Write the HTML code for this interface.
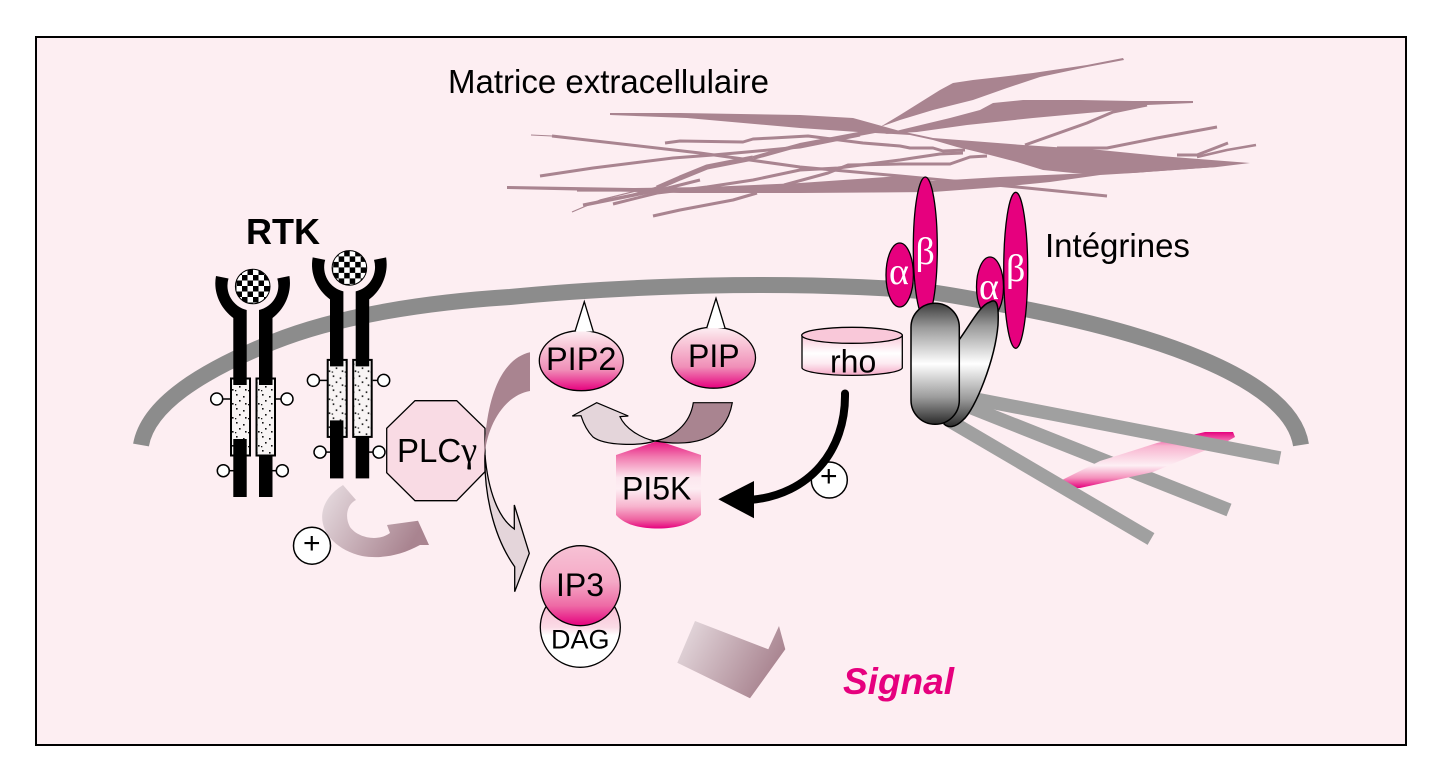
<!DOCTYPE html>
<html><head><meta charset="utf-8"><style>
html,body{margin:0;padding:0;background:#fff;width:1444px;height:763px;overflow:hidden}
svg{display:block}
text{font-family:"Liberation Sans",sans-serif;fill:#000}
.g{font-family:"Liberation Serif",serif;fill:#fff;font-size:38px}
</style></head><body>
<svg width="1444" height="763" viewBox="0 0 1444 763" xmlns="http://www.w3.org/2000/svg">
<defs>
<pattern id="ck" width="11" height="11" patternUnits="userSpaceOnUse"><rect width="11" height="11" fill="#fff"/><rect width="5.5" height="5.5" fill="#000"/><rect x="5.5" y="5.5" width="5.5" height="5.5" fill="#000"/></pattern>
<pattern id="dots" width="13" height="14" patternUnits="userSpaceOnUse"><rect width="13" height="14" fill="#f8f4f4"/><rect x="2" y="2" width="1.6" height="1.6" fill="#111"/><rect x="9" y="4" width="1.6" height="1.6" fill="#111"/><rect x="5" y="8" width="1.6" height="1.6" fill="#111"/><rect x="11" y="11" width="1.6" height="1.6" fill="#111"/><rect x="1" y="12" width="1.3" height="1.3" fill="#111"/></pattern>
<linearGradient id="pk" x1="0" y1="0" x2="0" y2="1"><stop offset="0" stop-color="#fdf0f4"/><stop offset=".2" stop-color="#f9cfdd"/><stop offset=".65" stop-color="#f08fb8"/><stop offset="1" stop-color="#e6007e"/></linearGradient>
<linearGradient id="ip" x1="0" y1="0" x2="0" y2="1"><stop offset="0" stop-color="#f7c2d5"/><stop offset=".45" stop-color="#f5a9c6"/><stop offset=".75" stop-color="#ee6aa5"/><stop offset="1" stop-color="#e6007e"/></linearGradient>
<linearGradient id="dg" x1="0" y1="0" x2="0" y2="1"><stop offset="0" stop-color="#f5a9c6"/><stop offset=".5" stop-color="#fbdbe6"/><stop offset=".6" stop-color="#fff"/><stop offset="1" stop-color="#fff"/></linearGradient>
<linearGradient id="rh" x1="0" y1="0" x2="0" y2="1"><stop offset="0" stop-color="#f9c8d9"/><stop offset=".45" stop-color="#fff"/><stop offset=".7" stop-color="#fdeaf1"/><stop offset="1" stop-color="#f4a9c6"/></linearGradient>
<linearGradient id="pi" x1="0" y1="0" x2="0" y2="1"><stop offset="0" stop-color="#e6107f"/><stop offset=".18" stop-color="#f178ae"/><stop offset=".42" stop-color="#fce6ee"/><stop offset=".55" stop-color="#fdeef3"/><stop offset=".75" stop-color="#f7b3cd"/><stop offset=".9" stop-color="#ee62a0"/><stop offset="1" stop-color="#e6007e"/></linearGradient>
<linearGradient id="gy" x1="0" y1="0" x2="0" y2="1"><stop offset="0" stop-color="#3c3c3c"/><stop offset=".2" stop-color="#9a9a9a"/><stop offset=".5" stop-color="#fff"/><stop offset=".78" stop-color="#9a9a9a"/><stop offset="1" stop-color="#2a2a2a"/></linearGradient>
<linearGradient id="ac" x1="0" y1="0" x2="0" y2="1"><stop offset="0" stop-color="#e6007e"/><stop offset=".25" stop-color="#f8b4cf"/><stop offset=".6" stop-color="#fdeff4"/><stop offset=".82" stop-color="#f490bb"/><stop offset="1" stop-color="#e6007e"/></linearGradient>
<linearGradient id="ar" x1="0" y1="0" x2="1" y2=".4"><stop offset="0" stop-color="#e9dfe3"/><stop offset="1" stop-color="#a98490"/></linearGradient>
</defs>
<rect x="36" y="37" width="1370" height="708" fill="#fdeef2" stroke="#000" stroke-width="2"/>

<!-- extracellular matrix -->
<g fill="#a98490">
<polygon points="1123,58 1087,65 1033,73 1000,77 973,80 953,83 940,90 900,115 880,127 900,120 933,110 973,100 1007,88 1040,77 1087,67 1124,60"/>
<polygon points="1193,101 1133,101 1080,100 1023,100 993,103 980,110 950,118 900,130 885,134 900,133 917,132 967,125 1033,118 1120,110 1147,105 1193,103"/>
<polygon points="610,113 680,113 800,115 853,118 900,131 933,138 1023,145 1100,150 1160,156 1250,163 1217,167 1133,173 1093,174 1073,173 1043,170 1017,162 990,155 957,147 933,140 910,135 858,132 800,128 687,118 610,115"/>
<polygon points="507,186 633,188 707,187 800,183 900,176 933,181 1000,177 1093,173 1180,167 1217,167 1133,173 1100,175 1050,182 1000,187 933,192 800,193 680,193 600,191 507,189"/>
</g>
<g fill="none" stroke="#a98490" stroke-linejoin="round">
<polyline stroke-width="3" points="552,136 700,153 800,167 900,176 1017,187 1107,196"/>
<polyline stroke-width="3" points="540,176 593,168 673,158 713,155 747,152 800,147 860,135"/>
<polyline stroke-width="3" points="583,205 633,195 657,188"/>
<polyline stroke-width="5" points="657,188 680,178 707,167 753,158"/>
<polyline stroke-width="4" points="753,158 800,145 880,130"/>
<polyline stroke-width="3" points="613,204 657,193 707,187 753,180 800,170 838,168 900,160 913,158 940,154 963,153"/>
<polyline stroke-width="3" points="665,143 680,141 743,142 753,139 773,138 808,136 863,143 900,146 910,148 933,148 943,151 965,150"/>
<polyline stroke-width="3" points="653,216 680,210 733,200 757,193"/>
<polyline stroke-width="3" points="784,185 828,173 848,165 900,164 950,164 970,157 987,156"/>
<polyline stroke-width="3" points="1025,145 1087,123 1113,112 1147,105"/>
<polyline stroke-width="3" points="1057,148 1107,148 1157,138 1217,127"/>
<polyline stroke-width="3" points="1177,155 1197,155 1228,143"/>
<polyline stroke-width="2.6" points="1197,157 1227,150 1256,145"/>
<polyline stroke-width="1.2" points="572,212 600,200 640,190"/>
<polyline stroke-width="1.2" points="577,191 700,191"/>
<polyline stroke-width="1" points="531,135 552,136"/>
<polyline stroke-width="3" points="585,205 660,190 700,180"/>
</g>

<!-- membrane -->
<path d="M141,445 C148,405 200,372 273,342 C340,315 430,302 510,297 C600,288 700,285 760,285 C830,285 900,288 937,293 C970,298 1000,304 1030,310 C1140,332 1290,375 1301,445" fill="none" stroke="#8c8c8c" stroke-width="16"/>

<!-- RTK -->
<g id="r">
<rect x="231" y="378.5" width="19" height="77" fill="url(#dots)" stroke="#000" stroke-width="2"/>
<rect x="256.5" y="378.5" width="18.5" height="77" fill="url(#dots)" stroke="#000" stroke-width="2"/>
<path d="M216,276 L228.5,278.5 A25,25 0 0 0 246.7,310 L246.7,385 L233.3,385 L233.3,318 C220,308 213,292 216,276Z"/>
<path d="M289.4,276 L277.3,278.5 A25,25 0 0 1 259,310 L259,385 L272.5,385 L272.5,318 C285.5,308 292,292 289.4,276Z"/>
<rect x="233.3" y="439" width="13.4" height="58"/>
<rect x="259" y="456" width="13.5" height="41"/>
<circle cx="252.7" cy="286.5" r="17.3" fill="url(#ck)" stroke="#000"/>
<g stroke="#000" stroke-width="1.5" fill="#fff">
<line x1="222" y1="399" x2="231" y2="399"/><line x1="276" y1="399" x2="282" y2="399"/>
<line x1="229" y1="470.7" x2="234" y2="470.7"/><line x1="272" y1="470.7" x2="277" y2="470.7"/>
<circle cx="216.7" cy="399" r="6"/><circle cx="287" cy="399" r="6"/>
<circle cx="223.3" cy="470.7" r="6"/><circle cx="282.3" cy="470.7" r="6"/>
</g>
</g>
<use href="#r" transform="translate(96.7,-18.6)"/>
<text x="246" y="244" font-size="36" font-weight="bold">RTK</text>

<!-- feedback arrow -->
<path d="M343,485 L356,500 C346,505 345,518 350,527 C358,538 378,542 390,533 L387,525 L418,520.7 L429,545 L420,545 C400,556 380,559 362,556 C335,550 318,530 323,510 C326,498 335,490 343,485Z" fill="url(#ar)"/>
<circle cx="312" cy="545.7" r="18.5" fill="#fff" stroke="#000" stroke-width="1.5"/>
<text x="303" y="553" font-size="30">+</text>

<!-- PLC -->
<polygon points="415,400.7 456.7,400.7 485,428.3 485,471.7 456.7,500.7 415,500.7 386.7,472.7 386.7,428.3" fill="#f9dbe4" stroke="#000" stroke-width="1.3"/>
<text x="397" y="462" font-size="33">PLC<tspan font-family="Liberation Serif" font-size="36">γ</tspan></text>

<!-- PLC pathway arrow -->
<path d="M485,455 C484,490 492,535 514.7,566.7 L514.7,591.7 L529.3,553.3 L514.3,505 L514.3,529 C498,518 488,490 485,455Z" fill="#e4d5da" stroke="#000" stroke-width="1.3"/>
<path d="M530,352.3 C505,358 485,390 484.2,460 C486,425 505,395 530,391Z" fill="#a98490"/>

<!-- PIP2 / PIP -->
<g stroke="#000" stroke-width="1.3">
<ellipse cx="581.3" cy="360.7" rx="42" ry="30" fill="url(#pk)"/>
<path d="M575,331.5 L584.3,301.7 L593.3,331.5" fill="#fff"/>
<ellipse cx="713.5" cy="357.7" rx="42" ry="30.5" fill="url(#pk)"/>
<path d="M706.7,328 L716,298.3 L725,328" fill="#fff"/>
</g>
<text x="546" y="370" font-size="32.5">PIP2</text>
<text x="688" y="367" font-size="32">PIP</text>

<!-- PI5K -->
<path d="M658.3,440.7 L701,455 L701,515 C690,525 675,528.5 658,528.5 C640,528.5 625,525 616,515 L616,455Z" fill="url(#pi)"/>
<text x="622" y="499.5" font-size="32">PI5K</text>
<path d="M655,441 C640,446 605,446 593,437 C587,431 583,422 581,415.7 L572.3,416 L596.7,402.7 L628.3,416 L620,416.7 C625,428 640,438 655,441Z" fill="#e4d5da" stroke="#000" stroke-width="1.2"/>
<path d="M732.3,402.7 L693.3,402.7 C690,425 672,438 655,441 C685,446 725,445 732.3,402.7Z" fill="#a98490" stroke="#000" stroke-width="1.2"/>

<!-- rho -->
<path d="M802,335.3 L802,368 A50.3,8 0 0 0 902.3,368 L902.3,335.3Z" fill="url(#rh)" stroke="#000" stroke-width="1.3"/>
<ellipse cx="852" cy="335.3" rx="50.3" ry="8" fill="#f9c8d9" stroke="#000" stroke-width="1.3"/>
<text x="830" y="372.7" font-size="32">rho</text>

<!-- plus + black arrow -->
<circle cx="829.3" cy="480" r="18" fill="#fff" stroke="#000" stroke-width="1.5"/>
<text x="820" y="486" font-size="30">+</text>
<path d="M845,393.5 C846,450 810,495 750,500" fill="none" stroke="#000" stroke-width="8" stroke-linecap="round"/>
<polygon points="718.3,499.3 754,481 754,518.3"/>

<!-- IP3 / DAG -->
<circle cx="580.3" cy="627.3" r="40" fill="url(#dg)" stroke="#000" stroke-width="1.3"/>
<circle cx="580.3" cy="585.7" r="40" fill="url(#ip)" stroke="#000" stroke-width="1.3"/>
<text x="556" y="596" font-size="32">IP3</text>
<text x="551" y="648.5" font-size="27">DAG</text>

<!-- signal -->
<polygon points="695,621 768.3,649.3 779,626 785.3,649.3 750,698.3 677.3,662.7" fill="url(#ar)"/>
<text x="843" y="694" font-size="37" font-weight="bold" font-style="italic" style="fill:#e6007e">Signal</text>
<text x="448" y="93" font-size="33">Matrice extracellulaire</text>
<text x="1045" y="257" font-size="33">Intégrines</text>

<!-- stress fibres -->
<line x1="962" y1="404" x2="1229" y2="510" stroke="#a0a0a0" stroke-width="13.5"/>
<path d="M1062,480 L1100,461 L1157,443 L1205,432 L1233,432 L1235,437 L1228,441 L1153,472 L1080,488 L1051,488Z" fill="url(#ac)"/>
<line x1="975" y1="399" x2="1280" y2="458" stroke="#a0a0a0" stroke-width="13.5"/>
<line x1="950" y1="421" x2="1151" y2="539" stroke="#a0a0a0" stroke-width="13.5"/>

<!-- integrins -->
<g fill="#e6007e" stroke="#000" stroke-width="1.3">
<ellipse cx="925.3" cy="248" rx="12" ry="71"/>
<ellipse cx="899.7" cy="275" rx="13.7" ry="32"/>
<ellipse cx="990" cy="287" rx="13.5" ry="30"/>
<ellipse cx="1015.7" cy="270.3" rx="12" ry="78"/>
</g>
<path d="M959,340 C970,325 980,305 990,302 C997,298 999,305 998,325 C995,360 975,410 963,420 C955,428 948,428 944,424Z" fill="url(#gy)" stroke="#000" stroke-width="1.5"/>
<rect x="911" y="303.3" width="48.3" height="121" rx="24" ry="24" fill="url(#gy)" stroke="#000" stroke-width="1.5"/>
<text class="g" x="889" y="284" style="fill:#fff">α</text>
<text class="g" x="915.5" y="264" style="fill:#fff">β</text>
<text class="g" x="979" y="299" style="fill:#fff">α</text>
<text class="g" x="1006" y="281" style="fill:#fff">β</text>
</svg>
</body></html>
